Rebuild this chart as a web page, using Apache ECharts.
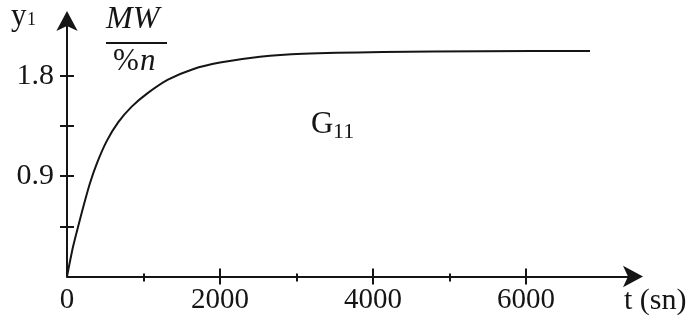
<!DOCTYPE html>
<html><head><meta charset="utf-8">
<script src="https://cdn.jsdelivr.net/npm/echarts@6/dist/echarts.min.js"></script>
<style>html,body{margin:0;padding:0;background:#fff}#c{width:695px;height:323px}</style>
</head><body><div id="c"></div>
<script>
// step response G11 (y1 in MW/%n vs t in s)
const timeSec = [0, 78, 144, 216, 301, 392, 519, 671, 846, 1046, 1320, 1647, 2000, 2523, 3085, 4131, 5439, 6838];
const responseY = [0, 0.264, 0.444, 0.632, 0.838, 1.017, 1.214, 1.384, 1.523, 1.640, 1.765, 1.859, 1.918, 1.971, 1.998, 2.014, 2.020, 2.023];
const xMajorTicks = [2000, 4000, 6000];
const xMinorTicks = [1000, 3000, 5000];
const xTickLabels = [0, 2000, 4000, 6000];
const yTicks = [0.45, 0.9, 1.35, 1.8];
const yTickLabels = [0.9, 1.8];

const INK = '#151515';
const FONT = '"Liberation Serif", "Times New Roman", serif';
const X_MIN = 0, X_MAX = 7400, Y_MIN = 0, Y_MAX = 2.3;

function xAx(extra) {
  return Object.assign({
    type: 'value', min: X_MIN, max: X_MAX, position: 'bottom', offset: 0,
    splitLine: { show: false },
    axisLine: { show: false, onZero: false },
    axisTick: { show: false },
    axisLabel: { show: false }
  }, extra);
}
function yAx(extra) {
  return Object.assign({
    type: 'value', min: Y_MIN, max: Y_MAX, position: 'left', offset: 0,
    splitLine: { show: false },
    axisLine: { show: false, onZero: false },
    axisTick: { show: false },
    axisLabel: { show: false }
  }, extra);
}

const chart = echarts.init(document.getElementById('c'), null, { renderer: 'canvas' });
chart.setOption({
  animation: false,
  backgroundColor: '#fff',
  grid: { left: 67, right: 62, top: 20, bottom: 46.5, containLabel: false, outerBoundsMode: 'none' },
  xAxis: [
    xAx({
      axisLine: { show: true, onZero: false, symbol: ['none', 'arrow'], symbolSize: [16, 20], symbolOffset: [0, 10],
                  lineStyle: { color: INK, width: 2 } },
      axisTick: { show: true, customValues: xMajorTicks, length: 8, inside: false, lineStyle: { color: INK, width: 2 } },
      axisLabel: { show: true, customValues: xTickLabels, margin: 9, color: INK, fontFamily: FONT, fontSize: 29,
                   formatter: v => String(v) }
    }),
    xAx({ axisTick: { show: true, customValues: xMajorTicks, length: 8, inside: true, lineStyle: { color: INK, width: 2 } } }),
    xAx({ axisTick: { show: true, customValues: xMinorTicks, length: 5, inside: false, lineStyle: { color: INK, width: 2 } } }),
    xAx({ axisTick: { show: true, customValues: xMinorTicks, length: 3, inside: true, lineStyle: { color: INK, width: 2 } } })
  ],
  yAxis: [
    yAx({
      axisLine: { show: true, onZero: false, symbol: ['none', 'arrow'], symbolSize: [16, 20], symbolOffset: [0, 9],
                  lineStyle: { color: INK, width: 2 } },
      axisTick: { show: true, customValues: yTicks, length: 7, inside: false, lineStyle: { color: INK, width: 2 } },
      axisLabel: { show: true, customValues: yTickLabels, margin: 13, color: INK, fontFamily: FONT, fontSize: 30,
                   formatter: v => String(v) }
    }),
    yAx({ axisTick: { show: true, customValues: yTicks, length: 7, inside: true, lineStyle: { color: INK, width: 2 } } })
  ],
  series: [{
    type: 'line',
    xAxisIndex: 0, yAxisIndex: 0,
    data: timeSec.map((t, i) => [t, responseY[i]]),
    showSymbol: false, symbol: 'none',
    smooth: 0.25,
    lineStyle: { color: INK, width: 2 }
  }],
  graphic: [
    { type: 'text', left: 11, top: 1, style: { text: 'y', font: '31px ' + FONT, fill: INK } },
    { type: 'text', left: 27, top: 11, style: { text: '1', font: '18px ' + FONT, fill: INK } },
    { type: 'text', left: 106, top: 4, style: { text: 'MW', font: 'italic 32px ' + FONT, fill: INK } },
    { type: 'line', shape: { x1: 106, y1: 43, x2: 167, y2: 43 }, style: { stroke: INK, lineWidth: 2 } },
    { type: 'text', left: 113, top: 46, style: { text: '%', font: '31px ' + FONT, fill: INK } },
    { type: 'text', left: 140, top: 46, style: { text: 'n', font: 'italic 31px ' + FONT, fill: INK } },
    { type: 'text', left: 311, top: 109, style: { text: 'G', font: '31px ' + FONT, fill: INK } },
    { type: 'text', left: 333, top: 121, style: { text: '11', font: '22px ' + FONT, fill: INK } },
    { type: 'text', left: 624, top: 286, style: { text: 't (sn)', font: '30px ' + FONT, fill: INK } }
  ]
});
</script></body></html>
